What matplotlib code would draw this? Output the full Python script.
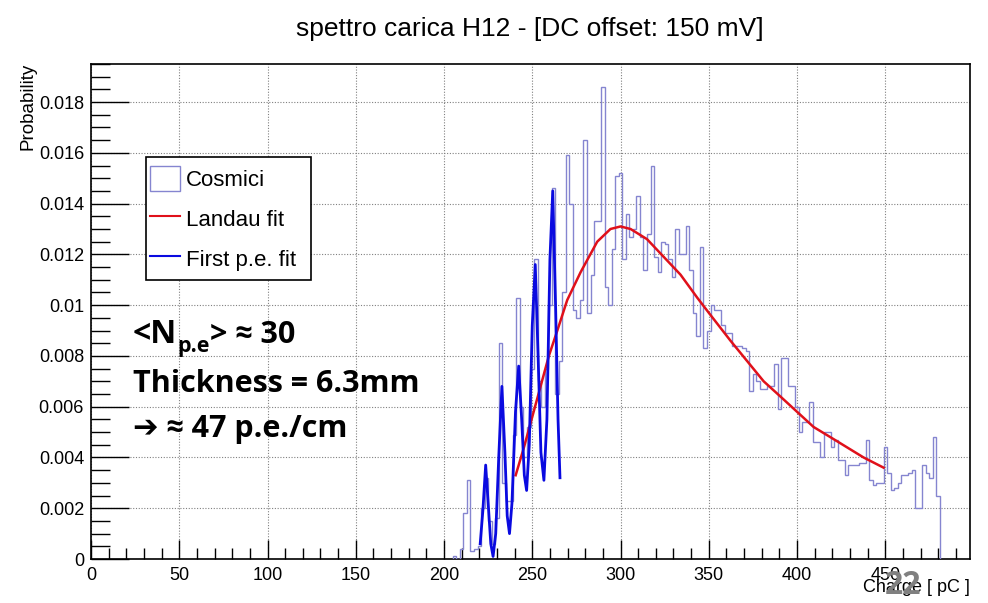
import matplotlib
matplotlib.use('Agg')
import matplotlib.pyplot as plt
import numpy as np
from matplotlib.patches import Patch, Rectangle
from matplotlib.lines import Line2D
from matplotlib.ticker import MultipleLocator, FuncFormatter

plt.rcParams['font.family'] = ['Liberation Sans', 'DejaVu Sans']

# histogram "Cosmici": bins of 2 pC starting at 205 pC
first_edge = 205
bin_width = 2
counts = [
    0.0001, 0.0000, 0.0004, 0.0018, 0.0031, 0.0003, 0.0004, 0.0005, 0.0020, 0.0032,   # 206-224
    0.0015, 0.0006, 0.0016, 0.0085, 0.0030, 0.0023, 0.0023, 0.0049, 0.0103, 0.0060,   # 226-244
    0.0040, 0.0052, 0.0075, 0.0118, 0.0070, 0.0060, 0.0075, 0.0100, 0.0146, 0.0065,   # 246-264
    0.0078, 0.0105, 0.0159, 0.0140, 0.0098, 0.0095, 0.0102, 0.0165, 0.0097, 0.0112,   # 266-284
    0.0133, 0.0133, 0.0186, 0.0107, 0.0100, 0.0122, 0.0151, 0.0152, 0.0118, 0.0136,   # 286-304
    0.0127, 0.0130, 0.0143, 0.0127, 0.0114, 0.0128, 0.0155, 0.0119, 0.0113, 0.0125,   # 306-324
    0.0124, 0.0118, 0.0111, 0.0130, 0.0120, 0.0120, 0.0131, 0.0114, 0.0097, 0.0088,   # 326-344
    0.0123, 0.0083, 0.0090, 0.0100, 0.0098, 0.0098, 0.0092, 0.0089, 0.0089, 0.0084,   # 346-364
    0.0084, 0.0084, 0.0083, 0.0082, 0.0066, 0.0073, 0.0070, 0.0067, 0.0067, 0.0068,   # 366-384
    0.0068, 0.0077, 0.0059, 0.0079, 0.0079, 0.0068, 0.0068, 0.0060, 0.0050, 0.0054,   # 386-404
    0.0054, 0.0062, 0.0046, 0.0046, 0.0040, 0.0050, 0.0050, 0.0044, 0.0047, 0.0039,   # 406-424
    0.0039, 0.0033, 0.0037, 0.0037, 0.0037, 0.0038, 0.0038, 0.0047, 0.0031, 0.0029,   # 426-444
    0.0030, 0.0030, 0.0044, 0.0034, 0.0027, 0.0028, 0.0030, 0.0033, 0.0033, 0.0034,   # 446-464
    0.0035, 0.0020, 0.0020, 0.0037, 0.0034, 0.0032, 0.0048, 0.0025,                   # 466-480
]

# Landau fit
landau_x = [240.6, 245.3, 250.0, 254.7, 259.4, 264.2, 269.8, 277.4, 282.1, 286.8,
            294.3, 300.0, 305.7, 315.0, 324.5, 334.0, 343.4, 350.0, 362.3, 371.7,
            381.1, 390.6, 400.0, 409.4, 418.9, 428.3, 437.7, 449.0]
landau_y = [0.0033, 0.0044, 0.0056, 0.0068, 0.0080, 0.0090, 0.0102, 0.0113, 0.0119, 0.0125,
            0.0130, 0.0131, 0.0130, 0.0126, 0.0119, 0.0112, 0.0103, 0.0097, 0.0086, 0.0078,
            0.0070, 0.0064, 0.0058, 0.0052, 0.0048, 0.0044, 0.0040, 0.0036]

# first p.e. fit
pe_x = [220.5, 222.0, 223.6, 225.2, 226.5, 227.8, 229.3, 231.0, 232.8, 234.5,
        235.8, 237.1, 238.5, 240.5, 242.3, 244.0, 245.5, 246.8, 248.3, 250.0,
        251.7, 253.3, 254.9, 256.6, 258.3, 260.0, 261.6, 263.2, 264.6, 265.7]
pe_y = [0.0006, 0.0019, 0.0037, 0.0020, 0.0006, 0.0001, 0.0010, 0.0040, 0.0068, 0.0042,
        0.0017, 0.0010, 0.0022, 0.0058, 0.0076, 0.0055, 0.0033, 0.0027, 0.0045, 0.0092,
        0.0116, 0.0080, 0.0042, 0.0031, 0.0055, 0.0118, 0.0145, 0.0100, 0.0055, 0.0032]

hist_col = '#8585d0'
red = '#e0101a'
blue = '#0a0ae0'

edges = first_edge + bin_width * np.arange(len(counts) + 1)

W, H = 988, 603
fig = plt.figure(figsize=(W / 100, H / 100), dpi=100)
ax = fig.add_axes([91/W, 44/H, 879/W, 495/H])

ax.stairs(counts, edges, baseline=0, color=hist_col, lw=1.0, zorder=3)
ax.plot(landau_x, landau_y, color=red, lw=1.8, zorder=4)
ax.plot(pe_x, pe_y, color=blue, lw=2.0, zorder=5)

ax.set_xlim(0, 498)
ax.set_ylim(0, 0.0195)
ax.xaxis.set_major_locator(MultipleLocator(50))
ax.xaxis.set_minor_locator(MultipleLocator(10))
ax.yaxis.set_major_locator(MultipleLocator(0.002))
ax.yaxis.set_minor_locator(MultipleLocator(0.0005))
ax.yaxis.set_major_formatter(FuncFormatter(lambda v, p: '%g' % round(v, 6)))
ax.tick_params(axis='x', which='major', direction='in', length=14, width=1, top=False, labelsize=13, pad=6)
ax.tick_params(axis='x', which='minor', direction='in', length=8, width=1, top=False)
ax.tick_params(axis='y', which='major', direction='in', length=27, width=1, right=False, labelsize=13, pad=5)
ax.tick_params(axis='y', which='minor', direction='in', length=14, width=1, right=False)
ax.grid(True, which='major', linestyle=(0, (1, 1.5)), color='#808080', lw=0.8)
ax.set_axisbelow(True)
for s in ax.spines.values():
    s.set_linewidth(1.2)

fig.text(530/W, 1 - 29/H, 'spettro carica H12 - [DC offset: 150 mV]',
         ha='center', va='center', fontsize=19)
fig.text(28/W, 1 - 63/H, 'Probability', rotation=90, ha='center', va='top', fontsize=13.5)
fig.text(970/W, 1 - 588/H, 'Charge [ pC ]', ha='right', va='center', fontsize=13)

# legend: frame drawn separately so it can match the reference box
fig.patches.append(Rectangle((146/W, 1 - 280/H), 165/W, 123/H, transform=fig.transFigure,
                             facecolor='white', edgecolor='black', lw=1.2, zorder=6))
handles = [Patch(facecolor='white', edgecolor=hist_col, lw=1.0),
           Line2D([], [], color=red, lw=1.5),
           Line2D([], [], color=blue, lw=1.5)]
leg = fig.legend(handles, ['Cosmici', 'Landau fit', 'First p.e. fit'],
                 loc='upper left', bbox_to_anchor=(150/W, 1 - 166/H),
                 fontsize=16, frameon=False, borderpad=0, labelspacing=0.67,
                 handlelength=1.35, handleheight=1.35, handletextpad=0.28, borderaxespad=0)
leg.set_zorder(7)

# annotation block
fam = ['Open Sans', 'DejaVu Sans']
big = 22
r = fig.canvas.get_renderer()
t1 = fig.text(133/W, 1 - 343/H, '<N', family=fam, fontweight='bold', fontsize=big + 1, va='baseline')
x1 = t1.get_window_extent(r).x1
t2 = fig.text(x1/W, 1 - 352/H, 'p.e', family=fam, fontweight='bold', fontsize=15.5, va='baseline')
x2 = t2.get_window_extent(r).x1
fig.text(x2/W, 1 - 343/H, '> ≈ 30', family=fam, fontweight='bold', fontsize=big, va='baseline')
fig.text(133/W, 1 - 392/H, 'Thickness = 6.3mm', family=fam, fontweight='bold',
         fontsize=big, va='baseline', ha='left')
fig.text(133/W, 1 - 437/H, '➔ ≈ 47 p.e./cm', family=fam, fontweight='bold',
         fontsize=big, va='baseline', ha='left')

fig.text(903/W, 1 - 585/H, '22', family=fam, fontweight='bold', fontsize=23,
         color='#808080', ha='center', va='center')

fig.savefig('out.png', dpi=100)
